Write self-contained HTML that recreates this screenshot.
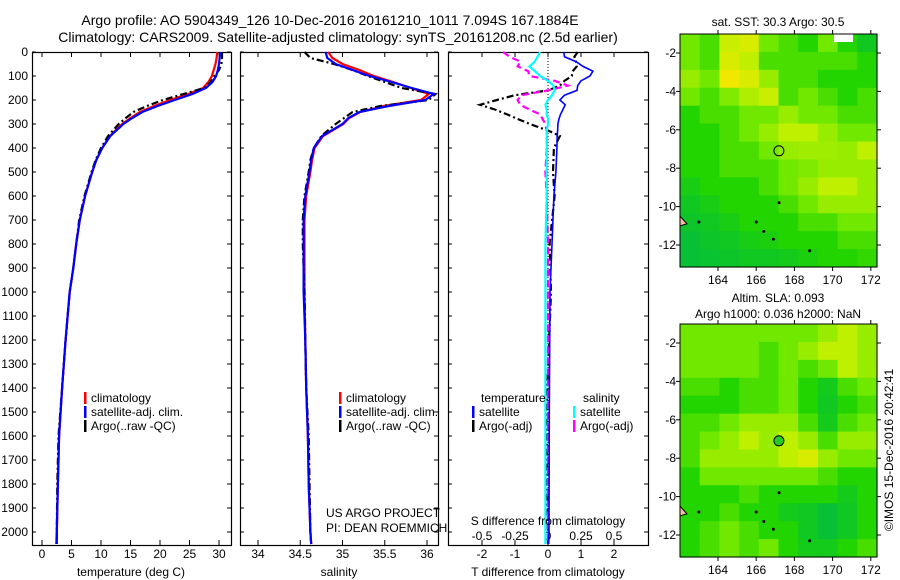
<!DOCTYPE html>
<html><head><meta charset="utf-8"><style>
html,body{margin:0;padding:0;background:#fff;}
svg{display:block;font-family:"Liberation Sans",sans-serif;}
text{fill:#000;}
</style></head><body>
<svg id="fig" width="900" height="580" viewBox="0 0 900 580">
<text x="330" y="25" font-size="14" text-anchor="middle">Argo profile: AO 5904349_126 10-Dec-2016 20161210_1011 7.094S 167.1884E</text>
<text x="338" y="42" font-size="14" text-anchor="middle">Climatology: CARS2009. Satellite-adjusted climatology: synTS_20161208.nc (2.5d earlier)</text>
<g id="g"></g>
</svg>
<script>
// ---- data ----
const depthsProf = [0,25,50,75,100,125,150,175,200,225,250,275,300,350,400,450,500,600,700,800,900,1000,1200,1400,1600,1800,2000,2050];
const tempClim   = [29.7,29.6,29.4,29.1,28.8,28.2,27.3,24.8,21.7,19.0,16.6,15.0,13.6,11.5,10.2,9.2,8.5,7.3,6.4,5.8,5.3,4.7,4.0,3.4,2.9,2.7,2.5,2.4];
const tempSat    = [30.2,30.1,30.0,29.8,29.5,28.9,27.8,25.5,22.5,19.6,17.0,15.3,13.8,11.6,10.2,9.2,8.5,7.3,6.4,5.8,5.3,4.7,4.0,3.4,2.9,2.7,2.5,2.5];
const tempArgo   = [30.5,30.5,30.4,30.0,29.2,28.6,27.5,24.0,20.5,17.8,15.5,14.2,13.0,11.2,10.0,9.1,8.4,7.2,6.3,5.8,5.3,4.7,4.0,3.4,2.8,2.6,2.5,2.5];
const salClim    = [34.83,34.88,35.0,35.2,35.37,35.6,35.81,36.02,35.93,35.49,35.21,35.08,35.01,34.77,34.67,34.64,34.62,34.57,34.55,34.55,34.55,34.55,34.56,34.57,34.59,34.6,34.62,34.63];
const salSat     = [34.8,34.82,34.92,35.12,35.32,35.58,35.82,36.08,35.98,35.55,35.2,35.07,35.0,34.76,34.66,34.63,34.61,34.56,34.54,34.54,34.54,34.54,34.56,34.57,34.59,34.6,34.62,34.63];
const salArgo    = [34.55,34.62,34.9,35.12,35.3,35.5,35.7,36.1,36.02,35.45,35.12,35.02,34.92,34.75,34.66,34.62,34.6,34.55,34.53,34.53,34.54,34.55,34.56,34.57,34.6,34.61,34.62,34.63];
const depthsDiff = [0,20,40,60,80,100,120,140,160,180,200,220,240,260,280,300,330,350,400,500,600,800,1000,1500,2000,2050];
const dTSat      = [0.48,0.5,0.85,1.06,1.36,1.27,1.0,0.9,0.88,0.5,0.36,0.52,0.45,0.38,0.33,0.3,0.29,0.28,0.27,0.24,0.18,0.12,0.06,0.04,0.03,0.02];
const dTArgo     = [0.9,0.8,0.85,0.87,0.75,0.72,0.5,0.36,0.0,-1.0,-1.55,-2.06,-1.6,-1.24,-0.9,-0.55,0.05,0.36,0.18,0.15,0.2,0.05,0.09,-0.05,0.0,0.0];
const dSSat      = [-0.06,-0.08,-0.1,-0.14,-0.1,-0.06,0.0,0.04,0.05,0.03,0.0,-0.02,-0.01,-0.01,0.0,0.0,-0.01,-0.01,-0.01,-0.01,-0.01,-0.02,-0.02,-0.02,-0.02,-0.02];
const dSArgo     = [-0.34,-0.29,-0.21,-0.23,-0.15,-0.14,0.05,0.15,0.0,-0.2,-0.23,-0.21,-0.14,-0.06,-0.04,-0.02,-0.01,-0.01,-0.01,-0.02,-0.01,0.0,0.0,0.0,0.0,0.0];
const depthTicks = [0,100,200,300,400,500,600,700,800,900,1000,1100,1200,1300,1400,1500,1600,1700,1800,1900,2000];
const tempTicks  = [0,5,10,15,20,25,30];
const salTicks   = [34,34.5,35,35.5,36];
const salTickLabels = ["34","34.5","35","35.5","36"];
const dTTicks    = [-2,-1,0,1,2];
const dSTicks    = [-0.5,-0.25,0,0.25,0.5];
const dSTickLabels = ["-0.5","-0.25","0","0.25","0.5"];
// map grids (rows: lat -1..-13, cols: lon 162.2..172.4)
const sstGrid = [
[.6,.55,.72,.75,.6,.55,.5,.6,.5,.45],
[.6,.55,.75,.7,.55,.55,.55,.55,.55,.5],
[.65,.6,.8,.75,.65,.55,.55,.5,.5,.5],
[.6,.55,.62,.68,.72,.55,.6,.55,.5,.55],
[.5,.55,.55,.6,.6,.65,.6,.6,.55,.55],
[.5,.5,.55,.6,.65,.7,.7,.65,.6,.6],
[.5,.5,.55,.55,.6,.65,.66,.66,.65,.7],
[.5,.5,.55,.55,.55,.6,.62,.65,.65,.65],
[.47,.5,.5,.5,.55,.6,.65,.7,.7,.65],
[.45,.47,.5,.5,.5,.55,.6,.65,.65,.65],
[.44,.45,.47,.5,.5,.5,.55,.55,.6,.6],
[.42,.44,.45,.47,.48,.5,.5,.5,.55,.55],
[.42,.43,.44,.45,.45,.46,.48,.5,.5,.52]];
const slaGrid = [
[.6,.6,.6,.6,.6,.6,.6,.65,.7,.65],
[.6,.6,.6,.6,.55,.6,.65,.7,.7,.65],
[.6,.6,.6,.6,.55,.6,.55,.6,.7,.65],
[.55,.55,.5,.55,.55,.6,.5,.46,.55,.6],
[.5,.5,.5,.55,.55,.6,.5,.45,.5,.55],
[.55,.55,.6,.65,.65,.65,.55,.46,.55,.6],
[.55,.6,.65,.7,.65,.7,.65,.55,.65,.65],
[.55,.65,.65,.65,.65,.7,.75,.65,.6,.6],
[.5,.6,.6,.6,.6,.6,.6,.55,.5,.5],
[.5,.5,.5,.55,.5,.5,.5,.5,.46,.5],
[.5,.5,.55,.5,.5,.46,.45,.42,.45,.5],
[.5,.55,.6,.55,.5,.5,.45,.42,.45,.5],
[.5,.55,.6,.55,.6,.5,.46,.46,.5,.55]];
const lonTicks = [164,166,168,170,172];
const latTicks = [-2,-4,-6,-8,-10,-12];
const argoLon = 167.1884, argoLat = -7.094;

// ---- drawing ----
const NS="http://www.w3.org/2000/svg";
const G=document.getElementById('g');
function mk(tag,attrs,parent){const e=document.createElementNS(NS,tag);for(const k in attrs)e.setAttribute(k,attrs[k]);(parent||G).appendChild(e);return e;}
const Y0=52, PY=0.24, BOT=545;
const yD=d=>Y0+d*PY;

function yAxisTicks(x0,x1,labels,grp){
  depthTicks.forEach(d=>{
    const y=yD(d);
    mk('line',{x1:x0,y1:y,x2:x0+4,y2:y,stroke:'#000'},grp);
    mk('line',{x1:x1,y1:y,x2:x1-4,y2:y,stroke:'#000'},grp);
    if(labels){const t=mk('text',{x:x0-4,y:y+4,'font-size':12,'text-anchor':'end'},grp);t.textContent=d;
      
      }
  });
}
function frame(x0,x1,name){
  const g=mk('g',{});
  
  
  const r=mk('rect',{x:x0+.5,y:Y0+.5,width:x1-x0,height:BOT-Y0,fill:'none',stroke:'#000','stroke-width':1.2},g);
  
  
  return g;
}
function xTicks(g,vals,labs,fx,ly,name){
  vals.forEach((v,i)=>{const x=fx(v);
    mk('line',{x1:x,y1:Y0,x2:x,y2:Y0+5,stroke:'#000'},g);
    mk('line',{x1:x,y1:BOT,x2:x,y2:BOT-5,stroke:'#000'},g);
    const t=mk('text',{x:x,y:ly,'font-size':12,'text-anchor':'middle'},g);t.textContent=labs[i];
    
    });
}
function series(g,xs,ds,fx,color,dash,name,w){
  const pts=xs.map((v,i)=>fx(v).toFixed(1)+','+yD(ds[i]).toFixed(1)).join(' ');
  const p=mk('polyline',{points:pts,fill:'none',stroke:color,'stroke-width':w||2.2,'stroke-dasharray':dash||'none'},g);
  
  
}
function legendItem(g,x,y,color,txt,name){
  mk('rect',{x:x,y:y-10,width:2.5,height:12,fill:color},g);
  const t=mk('text',{x:x+7,y:y,'font-size':12},g);t.textContent=txt;
  
  
}
function label(g,x,y,txt,name,anchor,size){
  const t=mk('text',{x:x,y:y,'font-size':size||12,'text-anchor':anchor||'middle'},g);t.textContent=txt;
  
  
}
const dashArgo='7,3,2,3';

// Panel 1
const g1=frame(32,231,'temperature-panel');
const fxT=v=>42+v*5.9;
yAxisTicks(32,231,true,g1);
xTicks(g1,tempTicks,tempTicks.map(String),fxT,558,'temperature-tick-label');
series(g1,tempClim,depthsProf,fxT,'#ff0000',null,'temperature-climatology-line');
series(g1,tempArgo,depthsProf,fxT,'#000',dashArgo,'temperature-argo-line');
series(g1,tempSat,depthsProf,fxT,'#0000ff',null,'temperature-satellite-line');
legendItem(g1,84,402,'#ff0000','climatology','legend-climatology');
legendItem(g1,84,416,'#0000ff','satellite-adj. clim.','legend-satellite');
legendItem(g1,84,430,'#000','Argo(..raw -QC)','legend-argo');
label(g1,131,576,'temperature (deg C)','temperature-axis-title');

// Panel 2
const g2=frame(240,438,'salinity-panel');
const fxS=v=>258+(v-34)*84.5;
yAxisTicks(240,438,false,g2);
xTicks(g2,salTicks,salTickLabels,fxS,558,'salinity-tick-label');
series(g2,salClim,depthsProf,fxS,'#ff0000',null,'salinity-climatology-line');
series(g2,salArgo,depthsProf,fxS,'#000',dashArgo,'salinity-argo-line');
series(g2,salSat,depthsProf,fxS,'#0000ff',null,'salinity-satellite-line');
legendItem(g2,339,402,'#ff0000','climatology','legend-climatology-2');
legendItem(g2,339,416,'#0000ff','satellite-adj. clim.','legend-satellite-2');
legendItem(g2,339,430,'#000','Argo(..raw -QC)','legend-argo-2');
label(g2,339,576,'salinity','salinity-axis-title');
label(g2,326,517,'US ARGO PROJECT','project-label','start');
label(g2,326,532,'PI: DEAN ROEMMICH','pi-label','start');

// Panel 3
const g3=frame(448,648,'difference-panel');
const fxdT=v=>548+v*33;
const fxdS=v=>548+v*132;
yAxisTicks(448,648,false,g3);
const zl=mk('line',{x1:548,y1:Y0,x2:548,y2:BOT,stroke:'#000','stroke-dasharray':'1,2'},g3);


xTicks(g3,dTTicks,dTTicks.map(String),fxdT,558,'t-diff-tick-label');
dSTicks.forEach((v,i)=>{label(g3,fxdS(v),540,dSTickLabels[i],'s-diff-tick-label');});
series(g3,dTArgo,depthsDiff,fxdT,'#000',dashArgo,'t-diff-argo-line');
series(g3,dSArgo,depthsDiff,fxdS,'#ff00ff','7,4','s-diff-argo-line');
series(g3,dTSat,depthsDiff,fxdT,'#0000ff',null,'t-diff-satellite-line',1.6);
series(g3,dSSat,depthsDiff,fxdS,'#00ffff',null,'s-diff-satellite-line');
label(g3,481,402,'temperature','legend-temperature-heading','start');
label(g3,583,402,'salinity','legend-salinity-heading','start');
legendItem(g3,472,416,'#0000ff','satellite','legend-t-satellite');
legendItem(g3,472,430,'#000','Argo(-adj)','legend-t-argo');
legendItem(g3,573,416,'#00ffff','satellite','legend-s-satellite');
legendItem(g3,573,430,'#ff00ff','Argo(-adj)','legend-s-argo');
label(g3,548,525,'S difference from climatology','s-diff-axis-title');
label(g3,548,576,'T difference from climatology','t-diff-axis-title');

// Maps
const stops=[[0.3,[0,176,176]],[0.4,[0,187,68]],[0.5,[34,212,0]],[0.6,[112,232,0]],[0.7,[191,240,0]],[0.8,[240,232,0]],[0.9,[240,160,0]]];
function cmap(v){
  if(v<=stops[0][0])return 'rgb('+stops[0][1]+')';
  for(let i=1;i<stops.length;i++){if(v<=stops[i][0]){const a=stops[i-1],b=stops[i],t=(v-a[0])/(b[0]-a[0]);
    return 'rgb('+a[1].map((c,k)=>Math.round(c+(b[1][k]-c)*t)).join(',')+')';}}
  return 'rgb('+stops[stops.length-1][1]+')';
}
function drawMap(top,grid,name,fillMarker){
  const L=680,R=877,B=top+233;
  const fx=lon=>718+(lon-164)*19.1;
  const fy=lat=>(top+19)+(-2-lat)*19.2;
  const g=mk('g',{});
  
  
  const cw=(R-L)/grid[0].length, ch=(B-top)/grid.length;
  grid.forEach((row,r)=>row.forEach((v,c)=>{
    const cell=mk('rect',{x:(L+c*cw).toFixed(2),y:(top+r*ch).toFixed(2),width:(cw+0.6).toFixed(2),height:(ch+0.6).toFixed(2),fill:cmap(v)},g);
    
    
  }));
  if(!fillMarker){mk('rect',{x:834,y:top,width:19,height:8,fill:'#fff'},g);}
  [[163,-10.8],[166,-10.8],[166.9,-11.7],[166.4,-11.3],[168.8,-12.3],[167.2,-9.8]].forEach(p=>{
    mk('circle',{cx:fx(p[0]),cy:fy(p[1]),r:1.5,fill:'#000'},g);});
  mk('path',{d:`M${L} ${fy(-10.5)} L${L+7} ${fy(-10.9)} L${L} ${fy(-11)} Z`,fill:'#f0c0a0',stroke:'#000','stroke-width':1},g);
  const m=mk('circle',{cx:fx(argoLon),cy:fy(argoLat),r:5,fill:fillMarker?'#22cc22':'none',stroke:'#000','stroke-width':1},g);
  
  
  const fr=mk('rect',{x:L,y:top,width:R-L,height:B-top,fill:'none',stroke:'#000','stroke-width':1},g);
  
  
  lonTicks.forEach(v=>{const x=fx(v);mk('line',{x1:x,y1:top,x2:x,y2:top-4,stroke:'#000'},g);mk('line',{x1:x,y1:B,x2:x,y2:B+4,stroke:'#000'},g);
    label(g,x,B+17,String(v),'longitude-tick-label');});
  latTicks.forEach(v=>{const y=fy(v);mk('line',{x1:L,y1:y,x2:L-4,y2:y,stroke:'#000'},g);mk('line',{x1:R,y1:y,x2:R+4,y2:y,stroke:'#000'},g);
    label(g,L-4,y+4,String(v),'latitude-tick-label','end');});
  return g;
}
const m1=drawMap(34,sstGrid,'sst-map',false);
label(m1,778,26,'sat. SST: 30.3 Argo: 30.5','sst-map-title');
const m2=drawMap(324,slaGrid,'sla-map',true);
label(m2,778,302,'Altim. SLA: 0.093','sla-map-title');
label(m2,778,318,'Argo h1000: 0.036 h2000: NaN','sla-map-subtitle');
const rt=mk('text',{x:0,y:0,'font-size':12,'text-anchor':'middle',transform:'translate(893,450) rotate(-90)'},G);
rt.textContent='©IMOS 15-Dec-2016 20:42:41';


</script>
</body></html>
